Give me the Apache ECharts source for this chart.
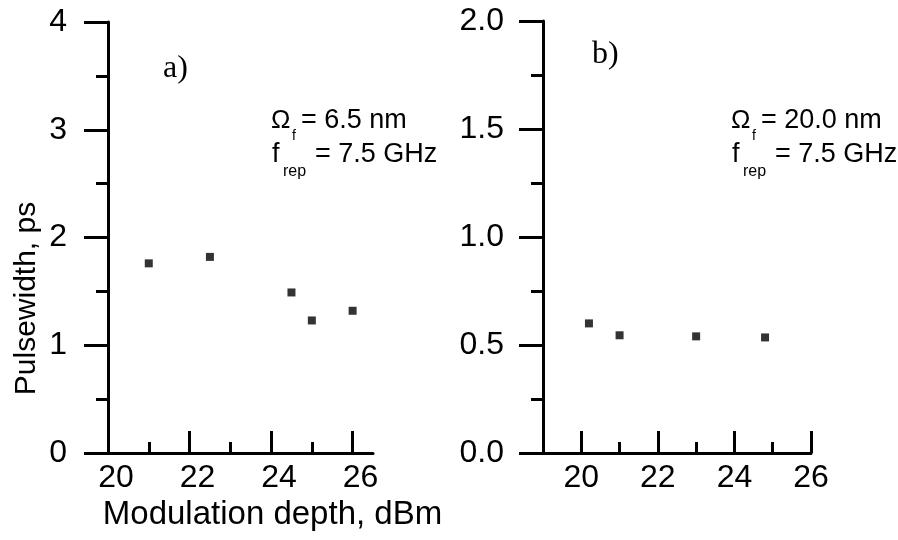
<!DOCTYPE html>
<html>
<head>
<meta charset="utf-8">
<script src="https://cdn.jsdelivr.net/npm/echarts@6/dist/echarts.min.js"></script>
<style>
  html, body { margin: 0; padding: 0; background: #fff; }
  #chart { width: 898px; height: 540px; }
</style>
</head>
<body>
<div id="chart"></div>
<script>
// a) Omega_f = 6.5 nm
var depthA = [21.0, 22.5, 24.5, 25.0, 26.0];
var widthA = [1.76, 1.82, 1.49, 1.23, 1.32];
// b) Omega_f = 20.0 nm
var depthB = [20.2, 21.0, 23.0, 24.8];
var widthB = [0.60, 0.545, 0.54, 0.535];

var xMajor = [20, 22, 24, 26];
var xMinor = [21, 23, 25];

var FONT = 'Liberation Sans, Arial, sans-serif';

function pairs(xs, ys) {
    var out = [];
    for (var i = 0; i < xs.length; i++) {
        out.push([xs[i], ys[i]]);
    }
    return out;
}

// two x axes per grid: long ticks + labels, and short minor ticks
function xAxesFor(grid, min, max, labelPad) {
    var main = {
        type: 'value', gridIndex: grid, min: min, max: max, position: 'bottom',
        axisLine: { lineStyle: { color: '#000', width: 3 } },
        axisTick: { inside: true, length: 22, customValues: xMajor, lineStyle: { color: '#000', width: 3 } },
        axisLabel: {
            customValues: xMajor, color: '#000', fontSize: 32, fontFamily: FONT,
            margin: 9, padding: [0, 0, 0, labelPad]
        },
        splitLine: { show: false }
    };
    var minor = {
        type: 'value', gridIndex: grid, min: min, max: max, position: 'bottom',
        axisLine: { show: false },
        axisTick: { inside: true, length: 11, customValues: xMinor, lineStyle: { color: '#000', width: 3 } },
        axisLabel: { show: false },
        splitLine: { show: false }
    };
    return [main, minor];
}

var xa = xAxesFor(0, 20, 26.5, 16);
var xb = xAxesFor(1, 19, 26, 0);
xa[0].name = 'Modulation depth, dBm';
xa[0].nameLocation = 'middle';
xa[0].nameGap = 39;
xa[0].nameTextStyle = { color: '#000', fontSize: 33, fontFamily: FONT, padding: [0, 0, 0, 64] };

var myChart = echarts.init(document.getElementById('chart'));

function note(x, y, text, size, family) {
    return {
        type: 'text', x: x, y: y,
        style: {
            text: text, fontSize: size, fontFamily: family || FONT, fill: '#000',
            textAlign: 'left', textVerticalAlign: 'middle'
        }
    };
}

var option = {
    backgroundColor: '#fff',
    animation: false,
    grid: [
        { left: 108, right: 525, top: 22, bottom: 87 },
        { left: 543, right: 87, top: 21, bottom: 87 }
    ],
    xAxis: [xa[0], xa[1], xb[0], xb[1]],
    yAxis: [
        {
            type: 'value', gridIndex: 0, min: 0, max: 4, interval: 1,
            name: 'Pulsewidth, ps', nameLocation: 'middle', nameGap: 66,
            nameTextStyle: { color: '#000', fontSize: 30, fontFamily: FONT, padding: [0, 122, 0, 0] },
            axisLine: { show: true, lineStyle: { color: '#000', width: 3 } },
            axisTick: { show: true, length: 24, lineStyle: { color: '#000', width: 3 } },
            minorTick: { show: true, splitNumber: 2, length: 12, lineStyle: { color: '#000', width: 3 } },
            axisLabel: { color: '#000', fontSize: 32, fontFamily: FONT, margin: 41 },
            splitLine: { show: false }
        },
        {
            type: 'value', gridIndex: 1, min: 0, max: 2, interval: 0.5,
            axisLine: { show: true, lineStyle: { color: '#000', width: 3 } },
            axisTick: { show: true, length: 24, lineStyle: { color: '#000', width: 3 } },
            minorTick: { show: true, splitNumber: 2, length: 12, lineStyle: { color: '#000', width: 3 } },
            axisLabel: {
                color: '#000', fontSize: 32, fontFamily: FONT, margin: 39,
                formatter: function (v) { return v.toFixed(1); }
            },
            splitLine: { show: false }
        }
    ],
    graphic: [
        note(163, 69, 'a)', 32, 'Liberation Serif, serif'),
        note(592, 55, 'b)', 32, 'Liberation Serif, serif'),

        note(271, 121, 'Ω', 26),
        note(292, 136, 'f', 14),
        note(301, 121, '= 6.5 nm', 27),
        note(272, 155, 'f', 27),
        note(283, 172, 'rep', 16),
        note(315, 155, '= 7.5 GHz', 27),

        note(731, 121, 'Ω', 26),
        note(752, 136, 'f', 14),
        note(761, 121, '= 20.0 nm', 27),
        note(732, 155, 'f', 27),
        note(743, 172, 'rep', 16),
        note(775, 155, '= 7.5 GHz', 27)
    ],
    series: [
        {
            name: 'a', type: 'scatter', xAxisIndex: 0, yAxisIndex: 0,
            symbol: 'rect', symbolSize: 8,
            itemStyle: { color: '#000' },
            data: pairs(depthA, widthA)
        },
        {
            name: 'b', type: 'scatter', xAxisIndex: 2, yAxisIndex: 1,
            symbol: 'rect', symbolSize: 8,
            itemStyle: { color: '#000' },
            data: pairs(depthB, widthB)
        }
    ]
};

myChart.setOption(option);
</script>
</body>
</html>
